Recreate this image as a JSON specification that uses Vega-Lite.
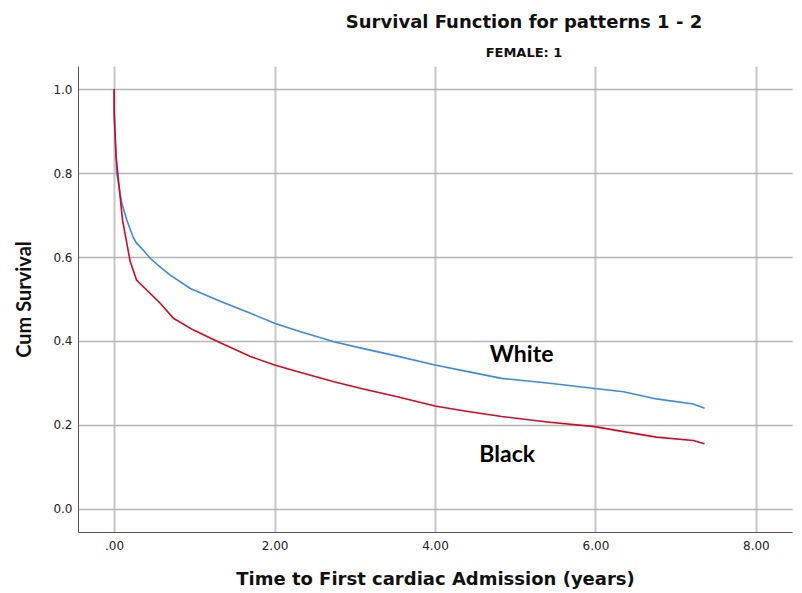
{
  "$schema": "https://vega.github.io/schema/vega-lite/v6.json",
  "width": 714,
  "height": 466,
  "autosize": "none",
  "padding": {"left": 78, "top": 66, "right": 10, "bottom": 61},
  "background": "white",
  "title": {
    "text": "Survival Function for patterns 1 - 2",
    "subtitle": "FEMALE: 1",
    "anchor": "middle",
    "dx": 89,
    "offset": 6,
    "font": "DejaVu Sans",
    "fontSize": 18,
    "fontWeight": "bold",
    "color": "#111",
    "subtitleFont": "DejaVu Sans",
    "subtitleFontSize": 13,
    "subtitleFontWeight": "bold",
    "subtitleColor": "#111",
    "subtitlePadding": 15
  },
  "config": {"view": {"stroke": null}},
  "datasets": {
    "curves": [
      {"t": 0, "s": 1.0, "g": "White"},
      {"t": 0.002, "s": 0.93, "g": "White"},
      {"t": 0.033, "s": 0.80, "g": "White"},
      {"t": 0.096, "s": 0.728, "g": "White"},
      {"t": 0.158, "s": 0.688, "g": "White"},
      {"t": 0.24, "s": 0.646, "g": "White"},
      {"t": 0.28, "s": 0.633, "g": "White"},
      {"t": 0.37, "s": 0.615, "g": "White"},
      {"t": 0.45, "s": 0.597, "g": "White"},
      {"t": 0.55, "s": 0.580, "g": "White"},
      {"t": 0.70, "s": 0.557, "g": "White"},
      {"t": 0.95, "s": 0.525, "g": "White"},
      {"t": 1.33, "s": 0.494, "g": "White"},
      {"t": 1.70, "s": 0.466, "g": "White"},
      {"t": 2.0, "s": 0.442, "g": "White"},
      {"t": 2.325, "s": 0.422, "g": "White"},
      {"t": 2.74, "s": 0.398, "g": "White"},
      {"t": 3.08, "s": 0.383, "g": "White"},
      {"t": 3.53, "s": 0.364, "g": "White"},
      {"t": 4.0, "s": 0.343, "g": "White"},
      {"t": 4.41, "s": 0.327, "g": "White"},
      {"t": 4.83, "s": 0.311, "g": "White"},
      {"t": 5.4, "s": 0.300, "g": "White"},
      {"t": 5.99, "s": 0.287, "g": "White"},
      {"t": 6.35, "s": 0.279, "g": "White"},
      {"t": 6.76, "s": 0.262, "g": "White"},
      {"t": 7.22, "s": 0.250, "g": "White"},
      {"t": 7.36, "s": 0.240, "g": "White"},
      {"t": 0, "s": 1.0, "g": "Black"},
      {"t": 0.002, "s": 0.942, "g": "Black"},
      {"t": 0.025, "s": 0.839, "g": "Black"},
      {"t": 0.054, "s": 0.783, "g": "Black"},
      {"t": 0.105, "s": 0.688, "g": "Black"},
      {"t": 0.2, "s": 0.59, "g": "Black"},
      {"t": 0.28, "s": 0.545, "g": "Black"},
      {"t": 0.575, "s": 0.49, "g": "Black"},
      {"t": 0.74, "s": 0.454, "g": "Black"},
      {"t": 0.99, "s": 0.426, "g": "Black"},
      {"t": 1.33, "s": 0.395, "g": "Black"},
      {"t": 1.70, "s": 0.363, "g": "Black"},
      {"t": 2.0, "s": 0.343, "g": "Black"},
      {"t": 2.325, "s": 0.325, "g": "Black"},
      {"t": 2.74, "s": 0.303, "g": "Black"},
      {"t": 3.08, "s": 0.287, "g": "Black"},
      {"t": 3.53, "s": 0.267, "g": "Black"},
      {"t": 4.0, "s": 0.245, "g": "Black"},
      {"t": 4.41, "s": 0.232, "g": "Black"},
      {"t": 4.83, "s": 0.220, "g": "Black"},
      {"t": 5.4, "s": 0.207, "g": "Black"},
      {"t": 5.99, "s": 0.196, "g": "Black"},
      {"t": 6.35, "s": 0.184, "g": "Black"},
      {"t": 6.76, "s": 0.171, "g": "Black"},
      {"t": 7.22, "s": 0.163, "g": "Black"},
      {"t": 7.36, "s": 0.155, "g": "Black"}
    ],
    "labels": [
      {"t": 5.08, "s": 0.367, "label": "White"},
      {"t": 4.9, "s": 0.129, "label": "Black"}
    ]
  },
  "layer": [
    {
      "data": {"name": "curves"},
      "mark": {"type": "line", "strokeWidth": 1.6, "clip": true},
      "encoding": {
        "x": {
          "field": "t",
          "type": "quantitative",
          "scale": {"domain": [-0.45, 8.45], "nice": false, "zero": false},
          "axis": {
            "title": "Time to First cardiac Admission (years)",
            "values": [0, 2, 4, 6, 8],
            "labelExpr": "datum.value == 0 ? '.00' : format(datum.value, '.2f')",
            "grid": true,
            "gridColor": "#c6c6c6",
            "gridWidth": 2,
            "ticks": false,
            "domainColor": "#555",
            "domainWidth": 1,
            "labelFont": "DejaVu Sans",
            "labelFontSize": 12,
            "labelColor": "#222",
            "labelPadding": 8,
            "titleFont": "DejaVu Sans",
            "titleFontSize": 18,
            "titleFontWeight": "bold",
            "titleColor": "#111",
            "titlePadding": 19
          }
        },
        "y": {
          "field": "s",
          "type": "quantitative",
          "scale": {"domain": [-0.055, 1.055], "nice": false, "zero": false},
          "axis": {
            "title": "Cum Survival",
            "values": [0, 0.2, 0.4, 0.6, 0.8, 1.0],
            "format": ".1f",
            "grid": true,
            "gridColor": "#b4b4b4",
            "gridWidth": 1.5,
            "ticks": false,
            "domainColor": "#555",
            "domainWidth": 1,
            "labelFont": "DejaVu Sans",
            "labelFontSize": 12,
            "labelColor": "#222",
            "labelPadding": 6,
            "titleFont": "Lato",
            "titleFontSize": 20,
            "titleFontWeight": "bold",
            "titleColor": "#111",
            "titlePadding": 18
          }
        },
        "color": {
          "field": "g",
          "type": "nominal",
          "scale": {"domain": ["White", "Black"], "range": ["#3b8ae3", "#d6081e"]},
          "legend": null
        },
        "detail": {"field": "g"}
      }
    },
    {
      "data": {"name": "labels"},
      "mark": {"type": "text", "font": "Lato", "fontSize": 23, "fontWeight": "bold", "color": "#000", "align": "center", "baseline": "middle"},
      "encoding": {
        "x": {"field": "t", "type": "quantitative"},
        "y": {"field": "s", "type": "quantitative"},
        "text": {"field": "label"}
      }
    }
  ]
}
